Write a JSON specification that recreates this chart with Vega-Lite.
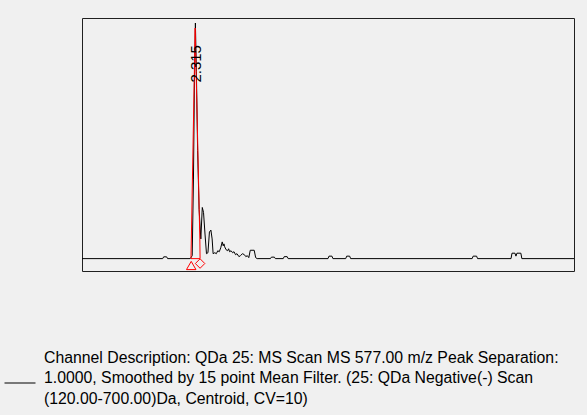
{
  "$schema": "https://vega.github.io/schema/vega-lite/v6.json",
  "autosize": "none",
  "width": 492,
  "height": 253,
  "padding": {"left": 82, "top": 18, "right": 13, "bottom": 144},
  "background": "#f0f0f0",
  "config": {
    "view": {"stroke": "#202020", "strokeWidth": 1},
    "font": "Liberation Sans",
    "axis": {"labelFont": "Liberation Sans", "titleFont": "Liberation Sans", "labelColor": "black", "titleColor": "black", "tickColor": "black", "domainColor": "black", "grid": false, "titleFontWeight": "normal"}
  },
  "datasets": {
    "trace": [
      {"t": 0, "v": 0}, {"t": 1.64, "v": 0}, {"t": 1.66, "v": 180}, {"t": 1.72, "v": 180}, {"t": 1.74, "v": 0},
      {"t": 2.2, "v": 0}, {"t": 2.24, "v": 300}, {"t": 2.265, "v": 8000}, {"t": 2.285, "v": 18000}, {"t": 2.305, "v": 23960},
      {"t": 2.325, "v": 19000}, {"t": 2.35, "v": 11000}, {"t": 2.38, "v": 5000}, {"t": 2.415, "v": 2000},
      {"t": 2.445, "v": 5200}, {"t": 2.47, "v": 4700}, {"t": 2.5, "v": 2500}, {"t": 2.53, "v": 500}, {"t": 2.56, "v": 600},
      {"t": 2.59, "v": 2700}, {"t": 2.62, "v": 2900}, {"t": 2.645, "v": 2000}, {"t": 2.665, "v": 500},
      {"t": 2.7, "v": 600}, {"t": 2.73, "v": 500}, {"t": 2.76, "v": 800}, {"t": 2.79, "v": 700}, {"t": 2.82, "v": 1100},
      {"t": 2.85, "v": 1700}, {"t": 2.87, "v": 1300}, {"t": 2.885, "v": 1500}, {"t": 2.9, "v": 1200}, {"t": 2.93, "v": 900},
      {"t": 2.96, "v": 800}, {"t": 2.98, "v": 1000}, {"t": 3.0, "v": 700}, {"t": 3.03, "v": 800}, {"t": 3.06, "v": 600},
      {"t": 3.09, "v": 700}, {"t": 3.12, "v": 400}, {"t": 3.15, "v": 500}, {"t": 3.19, "v": 200}, {"t": 3.22, "v": 300},
      {"t": 3.26, "v": 500}, {"t": 3.3, "v": 400}, {"t": 3.33, "v": 200}, {"t": 3.36, "v": 300}, {"t": 3.39, "v": 100},
      {"t": 3.42, "v": 850}, {"t": 3.5, "v": 850}, {"t": 3.53, "v": 100}, {"t": 3.56, "v": 0},
      {"t": 3.83, "v": 0}, {"t": 3.85, "v": 150}, {"t": 3.91, "v": 150}, {"t": 3.93, "v": 0},
      {"t": 4.09, "v": 0}, {"t": 4.11, "v": 200}, {"t": 4.17, "v": 200}, {"t": 4.19, "v": 0},
      {"t": 5.0, "v": 0}, {"t": 5.02, "v": 250}, {"t": 5.08, "v": 250}, {"t": 5.1, "v": 0},
      {"t": 5.36, "v": 0}, {"t": 5.38, "v": 250}, {"t": 5.44, "v": 250}, {"t": 5.46, "v": 0},
      {"t": 7.93, "v": 0}, {"t": 7.95, "v": 250}, {"t": 8.02, "v": 250}, {"t": 8.04, "v": 0},
      {"t": 8.72, "v": 0}, {"t": 8.74, "v": 550}, {"t": 8.8, "v": 550}, {"t": 8.82, "v": 250}, {"t": 8.84, "v": 550},
      {"t": 8.92, "v": 550}, {"t": 8.94, "v": 0}, {"t": 10, "v": 0}
    ],
    "peak": [
      {"t": 2.4, "v": 0, "o": 1}, {"t": 2.215, "v": 0, "o": 2}, {"t": 2.3, "v": 23450, "o": 3},
      {"t": 2.395, "v": 2000, "o": 4}, {"t": 2.4, "v": 0, "o": 5}
    ],
    "marks": [
      {"t": 2.22, "v": -700, "kind": "start"},
      {"t": 2.4, "v": -500, "kind": "end"}
    ],
    "label": [
      {"t": 2.31, "v": 17900, "text": "2.315"}
    ]
  },
  "layer": [
    {
      "data": {"name": "trace"},
      "mark": {"type": "line", "strokeWidth": 1, "interpolate": "linear"},
      "encoding": {
        "x": {
          "field": "t", "type": "quantitative",
          "scale": {"domain": [0, 10], "nice": false, "zero": false},
          "axis": {
            "title": "Minutes", "titleFontSize": 12, "titlePadding": 6,
            "values": [0,0.2,0.4,0.6,0.8,1,1.2,1.4,1.6,1.8,2,2.2,2.4,2.6,2.8,3,3.2,3.4,3.6,3.8,4,4.2,4.4,4.6,4.8,5,5.2,5.4,5.6,5.8,6,6.2,6.4,6.6,6.8,7,7.2,7.4,7.6,7.8,8,8.2,8.4,8.6,8.8,9,9.2,9.4,9.6,9.8,10],
            "labelExpr": "abs(datum.value - round(datum.value)) < 0.001 ? format(datum.value, '.2f') : ''",
            "labelFontSize": 13, "labelOverlap": false, "labelFlush": false, "labelBound": false,
            "domain": false,
            "tickSize": {"condition": {"test": "abs(datum.value - round(datum.value)) < 0.001", "value": 7}, "value": 4},
            "labelPadding": 4
          }
        },
        "y": {
          "field": "v", "type": "quantitative",
          "scale": {"domain": [-1260, 24470], "nice": false, "zero": false},
          "axis": {
            "title": "Intensity", "titleFontSize": 12, "titlePadding": 6,
            "values": [-1000,0,1000,2000,3000,4000,5000,6000,7000,8000,9000,10000,11000,12000,13000,14000,15000,16000,17000,18000,19000,20000,21000,22000,23000,24000],
            "labelExpr": "datum.value % 5000 == 0 ? format(datum.value, '.1f') : ''",
            "labelFontSize": 13, "labelOverlap": false, "labelFlush": false,
            "tickSize": {"condition": {"test": "datum.value % 5000 == 0", "value": 5}, "value": 3},
            "labelPadding": 1
          }
        },
        "color": {
          "datum": "Channel Description: QDa 25: MS Scan MS 577.00 m/z Peak Separation:|1.0000, Smoothed by 15 point Mean Filter. (25: QDa Negative(-) Scan|(120.00-700.00)Da, Centroid, CV=10)",
          "type": "nominal",
          "scale": {"range": ["black"]},
          "legend": {
            "title": null, "orient": "none", "legendX": -78, "legendY": 349, "padding": 0,
            "symbolType": "stroke", "symbolSize": 961, "symbolStrokeWidth": 1, "symbolStrokeColor": "black", "symbolOpacity": 1,
            "labelExpr": "split(datum.label, '|')", "labelFont": "Liberation Sans", "labelFontSize": 15.8,
            "labelLimit": 2000, "labelOffset": 8, "labelColor": "black", "labelBaseline": "alphabetic",
            "encode": {"labels": {"update": {"lineHeight": {"value": 20.5}, "dy": {"value": -20.5}}}}
          }
        }
      }
    },
    {
      "data": {"name": "peak"},
      "mark": {"type": "line", "color": "#ff0000", "strokeWidth": 1},
      "encoding": {
        "x": {"field": "t", "type": "quantitative", "scale": {"domain": [0, 10], "nice": false, "zero": false}, "axis": null},
        "y": {"field": "v", "type": "quantitative", "scale": {"domain": [-1260, 24470], "nice": false, "zero": false}, "axis": null},
        "order": {"field": "o", "type": "quantitative"}
      }
    },
    {
      "data": {"name": "marks"},
      "mark": {"type": "point", "color": "#ff0000", "filled": false, "strokeWidth": 1, "opacity": 1},
      "encoding": {
        "x": {"field": "t", "type": "quantitative", "scale": {"domain": [0, 10], "nice": false, "zero": false}, "axis": null},
        "y": {"field": "v", "type": "quantitative", "scale": {"domain": [-1260, 24470], "nice": false, "zero": false}, "axis": null},
        "shape": {"field": "kind", "type": "nominal", "scale": {"domain": ["start", "end"], "range": ["triangle-up", "diamond"]}, "legend": null},
        "size": {"value": 90}
      }
    },
    {
      "data": {"name": "label"},
      "mark": {"type": "text", "angle": 270, "align": "left", "baseline": "middle", "fontSize": 15, "font": "Liberation Sans", "color": "black"},
      "encoding": {
        "x": {"field": "t", "type": "quantitative", "scale": {"domain": [0, 10], "nice": false, "zero": false}, "axis": null},
        "y": {"field": "v", "type": "quantitative", "scale": {"domain": [-1260, 24470], "nice": false, "zero": false}, "axis": null},
        "text": {"field": "text"}
      }
    }
  ]
}
